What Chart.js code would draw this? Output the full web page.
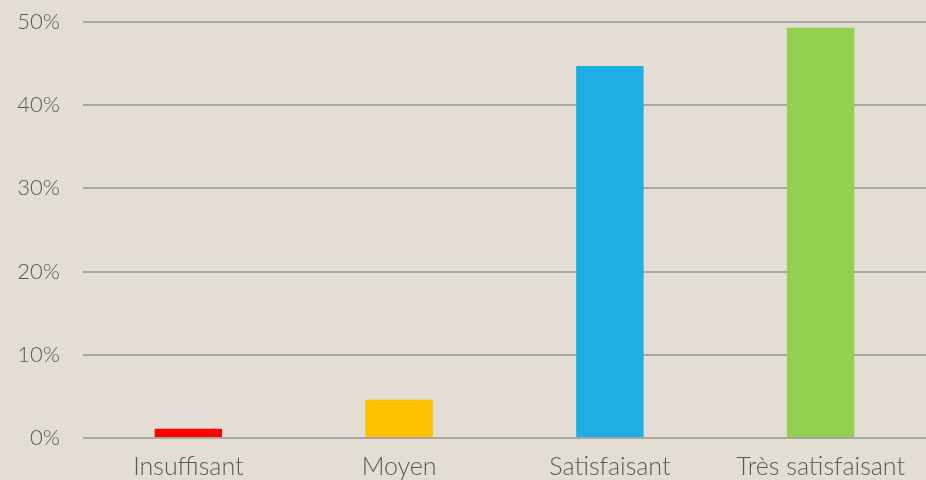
<!DOCTYPE html>
<html>
<head>
<meta charset="utf-8">
<script src="https://cdn.jsdelivr.net/npm/chart.js@4/dist/chart.umd.min.js"></script>
<style>
  html, body { margin: 0; padding: 0; background: #E3DDD3; }
  #wrap { width: 926px; height: 480px; }
</style>
</head>
<body>
<div id="wrap"><canvas id="chart"></canvas></div>
<script>
// données
const categories = ['Insuffisant', 'Moyen', 'Satisfaisant', 'Très satisfaisant'];
const values = [1.1, 4.6, 44.7, 49.3];
const colors = ['#FF0000', '#FFC000', '#1EAEE4', '#92D050'];
const yTicks = [0, 10, 20, 30, 40, 50];

const ctx = document.getElementById('chart').getContext('2d');
new Chart(ctx, {
    type: 'bar',
    data: {
        labels: categories,
        datasets: [{
            data: values,
            backgroundColor: colors,
            barPercentage: 0.64,
            categoryPercentage: 0.5
        }]
    },
    options: {
        responsive: true,
        maintainAspectRatio: false,
        animation: false,
        layout: { padding: { top: 22, right: 0, bottom: 0, left: 14 } },
        plugins: {
            legend: { display: false },
            tooltip: { enabled: false }
        },
        scales: {
            x: {
                grid: { display: false, drawTicks: false },
                border: { display: false },
                ticks: {
                    color: '#595959',
                    font: { family: 'Lato', size: 25, weight: 300 },
                    padding: 14
                },
                afterFit: s => { s.height = 42; s.paddingLeft = 0; s.paddingRight = 0; }
            },
            y: {
                min: 0,
                max: 50,
                afterBuildTicks: axis => { axis.ticks = yTicks.map(v => ({ value: v })); },
                grid: { color: '#A8A7A3', lineWidth: 2, drawTicks: false },
                border: { display: false },
                ticks: {
                    color: '#595959',
                    font: { family: 'Lato', size: 22, weight: 300 },
                    padding: 23,
                    callback: v => v + '%'
                },
                afterFit: s => { s.width = 69; s.paddingTop = 0; s.paddingBottom = 0; }
            }
        }
    }
});
</script>
</body>
</html>
